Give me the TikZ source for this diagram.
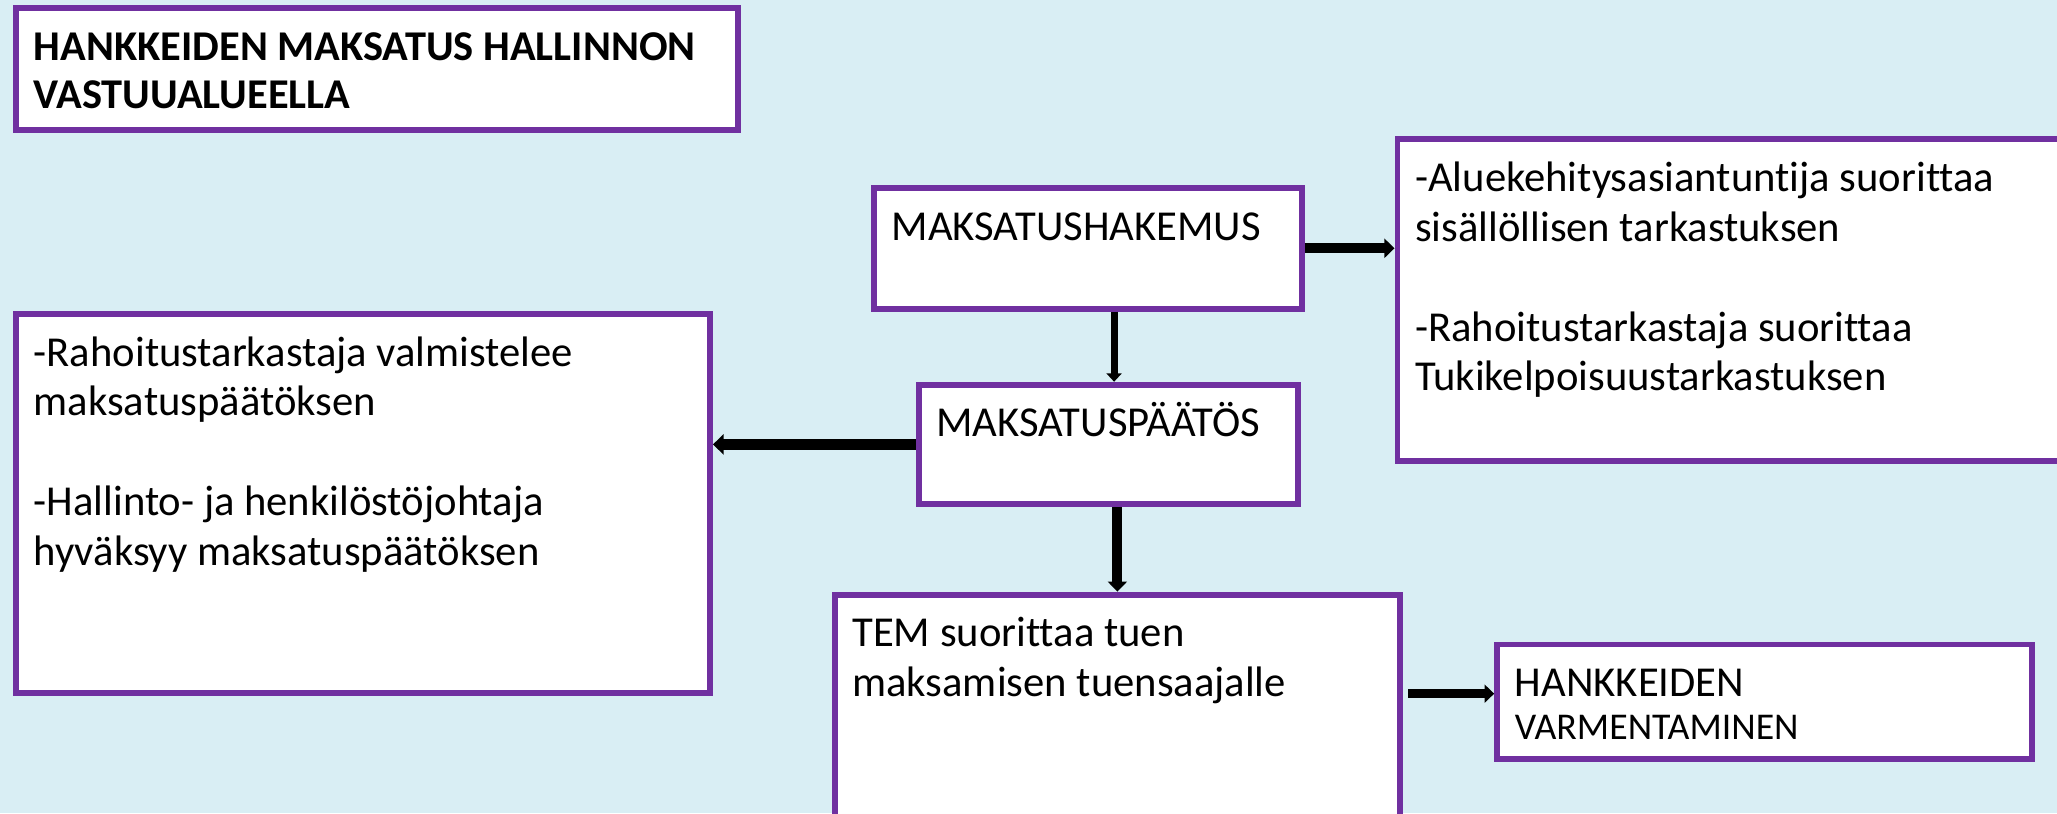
\documentclass[tikz,border=0pt]{standalone}
\usepackage{fontspec}
\setmainfont{Carlito}[Ligatures=NoCommon]
\usetikzlibrary{arrows.meta, positioning}
\definecolor{bgblue}{RGB}{217,238,244}
\definecolor{boxpurple}{RGB}{112,48,160}
\newlength\pxu
\setlength\pxu{0.02cm}
\newcommand{\boxbody}[3]{\parbox[t][#2\pxu][t]{#1\pxu}{\raggedright\rule{0pt}{0.98em}#3}}
\tikzset{
  flowbox/.style={draw=boxpurple, line width=0.09cm, fill=white, anchor=north west,
    inner xsep=0.27cm, inner ysep=0.16cm, font=\fontsize{18.5}{21.6}\selectfont},
  linkarrow/.style={line width=#1, -{Triangle[length=0.05cm 0.7, width=0.05cm 1.6]}}
}
\begin{document}
\begin{tikzpicture}[x=0.02cm, y=-0.02cm]
    \fill[bgblue] (0,0) rectangle (1568,620);
    \useasboundingbox (0,0) rectangle (1568,620);
    \clip (0,0) rectangle (1568,620);

    \node[flowbox, font=\bfseries\fontsize{18.4}{21}\selectfont] (title) at (10,4) {\boxbody{523}{77}{HANKKEIDEN MAKSATUS HALLINNON\\VASTUUALUEELLA}};
    \node[flowbox] (hakemus) at (664,141) {\boxbody{299}{76}{MAKSATUSHAKEMUS}};
    \node[flowbox] (checks) at (1063,104) {\boxbody{505}{229}{-Aluekehitysasiantuntija suorittaa\\sisällöllisen tarkastuksen\\[\baselineskip]-Rahoitustarkastaja suorittaa\\Tukikelpoisuustarkastuksen}};
    \node[flowbox] (paatos) at (698,291) {\boxbody{262}{75}{MAKSATUSPÄÄTÖS}};
    \node[flowbox] (valm) at (10,237) {\boxbody{502}{273}{-Rahoitustarkastaja valmistelee\\maksatuspäätöksen\\[\baselineskip]-Hallinto- ja henkilöstöjohtaja\\hyväksyy maksatuspäätöksen}};
    \node[flowbox] (tem) at (634,451) {\boxbody{404}{170}{TEM suorittaa tuen\\maksamisen tuensaajalle}};
    \node[flowbox] (varm) at (1139,489) {\boxbody{381}{71}{HANKKEIDEN\\[-3pt]{\fontsize{16.4}{18}\selectfont VARMENTAMINEN}}};

    \coordinate (pn) at ([xshift=0.09cm]paatos.north);
    \coordinate (vw) at ([yshift=0.12cm]varm.west);

    \draw[linkarrow=0.15cm] (hakemus.east) -- (hakemus.east -| checks.west);
    \draw[linkarrow=0.11cm] (pn |- hakemus.south) -- (pn);
    \draw[linkarrow=0.16cm] (paatos.west) -- (paatos.west -| valm.east);
    \draw[linkarrow=0.15cm] (tem.north |- paatos.south) -- (tem.north);
    \draw[linkarrow=0.14cm, shorten <=0.08cm] (vw -| tem.east) -- (vw);
\end{tikzpicture}
\end{document}
